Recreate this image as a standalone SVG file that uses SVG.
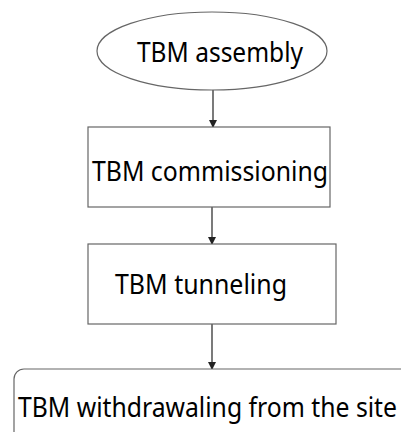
<svg xmlns="http://www.w3.org/2000/svg" width="401" height="432" viewBox="0 0 401 432">
<style>
.shape{fill:#fff;stroke:#666;stroke-width:1.2}
.lbl{font-family:"Noto Sans","Open Sans","DejaVu Sans",sans-serif;font-size:28px;fill:#000}
.conn{stroke:#222;stroke-width:1.2;fill:none}
</style>
<defs>
<marker id="ah" markerWidth="8" markerHeight="8" refX="7" refY="4" orient="auto" markerUnits="userSpaceOnUse">
<path d="M0,0 L8,4 L0,8 Z" fill="#222"/>
</marker>
</defs>
<rect width="401" height="432" fill="#fff"/>
<g id="connectors">
<line class="conn" x1="213" y1="90" x2="213" y2="127" marker-end="url(#ah)"/>
<line class="conn" x1="212" y1="207" x2="212" y2="244" marker-end="url(#ah)"/>
<line class="conn" x1="212" y1="324" x2="212" y2="369" marker-end="url(#ah)"/>
</g>
<g id="n1">
<ellipse class="shape" cx="212" cy="51" rx="115" ry="39"/>
<text class="lbl" x="137" y="62" textLength="166" lengthAdjust="spacingAndGlyphs">TBM assembly</text>
</g>
<g id="n2">
<rect class="shape" x="88" y="127" width="242" height="80"/>
<text class="lbl" x="92" y="181" textLength="236" lengthAdjust="spacingAndGlyphs">TBM commissioning</text>
</g>
<g id="n3">
<rect class="shape" x="88" y="244" width="248" height="80"/>
<text class="lbl" x="115" y="294" textLength="172" lengthAdjust="spacingAndGlyphs">TBM tunneling</text>
</g>
<g id="n4">
<rect class="shape" x="14" y="369" width="420" height="100" rx="10"/>
<text class="lbl" x="18" y="417" textLength="379" lengthAdjust="spacingAndGlyphs">TBM withdrawaling from the site</text>
</g>
</svg>
